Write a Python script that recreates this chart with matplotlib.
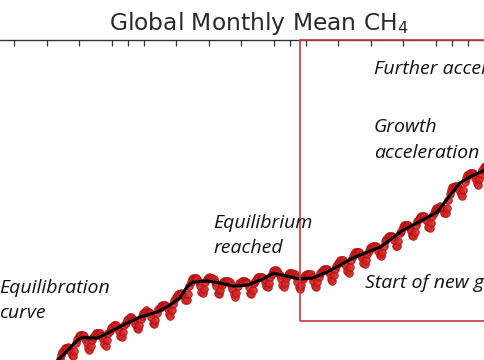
import numpy as np
import matplotlib
matplotlib.use("Agg")
import matplotlib.pyplot as plt
from matplotlib.patches import Rectangle

# ======================
# DATA
# ======================
YEARS = list(range(1991, 2019))

# monthly mean CH4, ppb, Jan..Dec for each year
MONTHLY = [
    [1712, 1713, 1714, 1714, 1713, 1711, 1708, 1708, 1712, 1718, 1721, 1723],  # 1991
    [1725, 1726, 1726, 1727, 1726, 1724, 1721, 1720, 1724, 1730, 1733, 1735],  # 1992
    [1736, 1736, 1736, 1735, 1733, 1730, 1726, 1725, 1728, 1732, 1734, 1736],  # 1993
    [1737, 1737, 1737, 1737, 1735, 1733, 1729, 1728, 1732, 1737, 1739, 1741],  # 1994
    [1742, 1743, 1743, 1743, 1741, 1739, 1735, 1734, 1738, 1743, 1745, 1747],  # 1995
    [1748, 1749, 1749, 1748, 1747, 1744, 1741, 1740, 1743, 1748, 1750, 1752],  # 1996
    [1753, 1754, 1753, 1753, 1752, 1749, 1745, 1744, 1747, 1752, 1755, 1756],  # 1997
    [1757, 1758, 1758, 1758, 1757, 1755, 1751, 1750, 1754, 1759, 1762, 1764],  # 1998
    [1765, 1766, 1766, 1767, 1766, 1765, 1762, 1762, 1766, 1772, 1775, 1777],  # 1999
    [1778, 1778, 1778, 1777, 1775, 1772, 1768, 1767, 1770, 1775, 1777, 1778],  # 2000
    [1779, 1778, 1778, 1777, 1775, 1772, 1767, 1766, 1769, 1773, 1775, 1776],  # 2001
    [1776, 1776, 1776, 1775, 1773, 1770, 1766, 1764, 1767, 1772, 1774, 1775],  # 2002
    [1776, 1776, 1776, 1775, 1774, 1771, 1767, 1766, 1769, 1774, 1776, 1778],  # 2003
    [1779, 1779, 1779, 1779, 1778, 1775, 1772, 1771, 1774, 1779, 1781, 1783],  # 2004
    [1784, 1784, 1783, 1782, 1780, 1777, 1773, 1771, 1774, 1778, 1780, 1782],  # 2005
    [1782, 1782, 1781, 1781, 1779, 1775, 1771, 1770, 1773, 1777, 1779, 1780],  # 2006
    [1781, 1781, 1781, 1781, 1779, 1776, 1772, 1771, 1775, 1779, 1782, 1783],  # 2007
    [1784, 1785, 1785, 1785, 1783, 1781, 1777, 1776, 1780, 1785, 1787, 1789],  # 2008
    [1790, 1791, 1791, 1791, 1789, 1787, 1783, 1782, 1786, 1791, 1794, 1796],  # 2009
    [1797, 1797, 1797, 1797, 1795, 1793, 1789, 1788, 1791, 1796, 1798, 1800],  # 2010
    [1801, 1802, 1802, 1802, 1800, 1798, 1795, 1794, 1797, 1802, 1805, 1807],  # 2011
    [1808, 1809, 1809, 1809, 1808, 1806, 1802, 1802, 1805, 1811, 1813, 1816],  # 2012
    [1817, 1817, 1817, 1817, 1816, 1813, 1810, 1809, 1812, 1817, 1820, 1822],  # 2013
    [1823, 1824, 1824, 1824, 1822, 1820, 1816, 1815, 1819, 1824, 1826, 1828],  # 2014
    [1830, 1830, 1830, 1831, 1830, 1829, 1826, 1826, 1830, 1836, 1840, 1843],  # 2015
    [1845, 1845, 1846, 1846, 1845, 1843, 1840, 1839, 1843, 1849, 1852, 1854],  # 2016
    [1855, 1856, 1856, 1856, 1854, 1852, 1848, 1847, 1851, 1855, 1858, 1860],  # 2017
    [1861, 1861, 1861, 1861, 1860, 1858, 1855, 1854, 1858, 1863, 1866, 1868],  # 2018
]

# deseasonalized trend (black line)
TREND_YEAR = [1991.0, 1991.7, 1992.9, 1993.2, 1994.1, 1994.9, 1995.7, 1996.75,
              1997.8, 1998.6, 1999.2, 1999.65, 2000.0, 2000.9, 2001.7, 2002.5,
              2003.4, 2004.2, 2005.0, 2005.8, 2006.6, 2007.4, 2008.3, 2009.1,
              2009.9, 2010.8, 2011.6, 2013.0, 2014.2, 2015.1, 2015.9, 2016.5,
              2017.1, 2018.05, 2018.5]
TREND_PPB = [1708.6, 1717.3, 1732.1, 1734.0, 1733.5, 1738.0, 1743.2, 1749.1,
             1752.8, 1758.0, 1763.2, 1771.3, 1775.0, 1775.8, 1774.3, 1772.0,
             1772.8, 1776.5, 1781.5, 1779.5, 1777.3, 1778.0, 1782.4, 1787.6,
             1792.8, 1797.2, 1801.0, 1813.5, 1820.9, 1826.8, 1839.4, 1848.3,
             1852.7, 1857.9, 1860.5]

TOP_TICKS = list(range(1985, 2021, 2)) + [1996, 2006, 2016]

TITLE = "Global Monthly Mean CH$_4$"
# text, left px, baseline px (figure pixels from top-left)
LABELS = [
    ("Equilibration", -1, 293),
    ("curve", -1, 318),
    ("Equilibrium", 213, 228),
    ("reached", 213, 253),
    ("Start of new growth", 365, 288),
    ("Growth", 374, 132),
    ("acceleration", 374, 158),
    ("Further acceleration", 374, 74),
]

# ======================
# FIGURE SETUP
# ======================
W, H = 485, 360
fig = plt.figure(figsize=(W / 100, H / 100), dpi=100, facecolor="white")

X0, X1 = 1983.0, 2023.0
Y0, Y1 = 1650.0, 1954.1
PX_YEAR = 16.2
left_px = 306 - (2007 - X0) * PX_YEAR
width_px = (X1 - X0) * PX_YEAR
top_px = 40
bot_px = 278 + (1778 - Y0) / 0.74
ax = fig.add_axes([left_px / W, 1 - bot_px / H, width_px / W, (bot_px - top_px) / H])
ax.set_xlim(X0, X1)
ax.set_ylim(Y0, Y1)
ax.set_facecolor("white")

for s in ["left", "right", "bottom"]:
    ax.spines[s].set_visible(False)
ax.spines["top"].set_color("#333333")
ax.spines["top"].set_linewidth(1.0)
ax.tick_params(axis="x", which="both", bottom=False, labelbottom=False,
               top=True, labeltop=False, direction="in", length=4,
               width=0.9, color="#333333")
ax.set_xticks(TOP_TICKS)
ax.set_yticks([])

# ======================
# MONTHLY POINTS + TREND
# ======================
t = []
v = []
for yr, row in zip(YEARS, MONTHLY):
    for m, val in enumerate(row):
        t.append(yr + (m + 0.5) / 12)
        v.append(val)

ax.plot(t, v, "o", ms=5.4, mfc="#d82424", mec="#a81010", mew=0.7,
        alpha=0.88, zorder=2)
ax.plot(TREND_YEAR, TREND_PPB, color="black", lw=2.2, zorder=3,
        solid_capstyle="round")

# red box (top edge sits on the top spine)
box_bottom = 1746.5
box = Rectangle((2006.63, box_bottom), 20, Y1 - box_bottom, fill=False,
                ec="#cc3a3a", lw=1.2, zorder=4, clip_on=False)
ax.add_patch(box)

# ======================
# TEXT
# ======================
fig.text(259 / W, 1 - 30 / H, TITLE, ha="center", va="baseline",
         fontsize=16.8, color="#2a2a2a")

for txt, x, y in LABELS:
    fig.text(x / W, 1 - y / H, txt, ha="left", va="baseline", fontsize=14,
             family="Open Sans", style="italic", color="#111111", zorder=5)

fig.savefig("out.png", dpi=100, facecolor="white")
